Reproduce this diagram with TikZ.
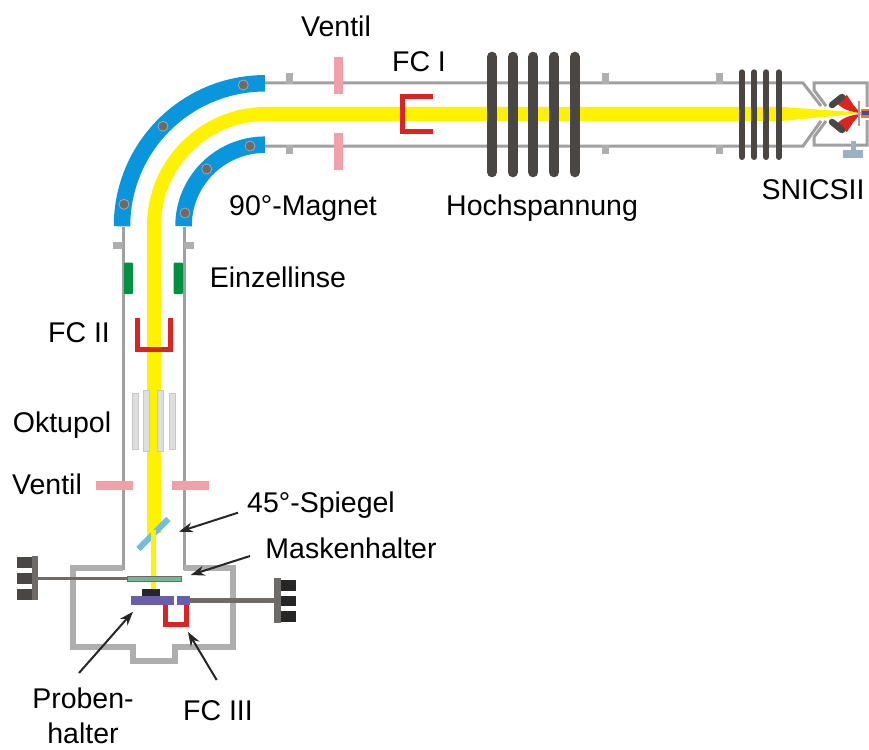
\documentclass[tikz,border=0pt]{standalone}
\usepackage{fontspec}
\setmainfont{Liberation Sans}
\usetikzlibrary{positioning,arrows.meta}
\definecolor{rohrgrau}{HTML}{A0A0A0}
\definecolor{magnetblau}{HTML}{0A96DC}
\definecolor{bolzengrau}{HTML}{6E6A68}
\definecolor{strahlgelb}{HTML}{FFF200}
\definecolor{ventilrosa}{HTML}{F0A0A8}
\definecolor{fcrot}{HTML}{D92420}
\definecolor{spulegrau}{HTML}{4A4644}
\definecolor{linsengruen}{HTML}{009040}
\definecolor{spiegelblau}{HTML}{70BDE0}
\definecolor{maskengruen}{HTML}{70B890}
\definecolor{halterlila}{HTML}{6A5EA8}
\definecolor{pumpenblau}{HTML}{9AB0C4}
\tikzset{
  >=Stealth,
  beschriftung/.style={font=\fontsize{28.5}{35}\selectfont,inner sep=0pt,text height=20.5pt,text depth=0pt},
  rohr/.style={draw=rohrgrau,line width=3pt},
  kammer/.style={draw=rohrgrau!85,line width=6pt,miter limit=10},
  strahl/.style={draw=strahlgelb,line width=14pt},
  magnet/.style={draw=magnetblau,line width=16.5pt},
  bolzen/.style={circle,fill=bolzengrau,draw=gray!70,line width=0.8pt,minimum size=10pt,inner sep=0pt},
  flansch/.style={fill=rohrgrau!85,draw=none},
  ventil/.style={fill=ventilrosa,draw=none},
  fc/.style={draw=fcrot,line width=5pt,miter limit=10},
  spule/.style={draw=spulegrau,line cap=round},
  oktupolstab/.style={fill=black!13,draw=black!22,line width=0.8pt},
  stange/.style={draw=bolzengrau,line cap=butt},
  pfeil/.style={->,draw=black!85,line width=2pt,>={Stealth[length=14pt,width=10pt]}},
}
\begin{document}
\begin{tikzpicture}[x=1pt,y=-1pt]
\useasboundingbox (0,0) rectangle (869,749);

\draw[strahl] (154,226) arc[start angle=180,end angle=90,radius=112pt] -- (782,114);
\draw[strahl] (154,226) -- (154,533);
\fill[strahlgelb] (782,107) -- (861,112.5) -- (861,113.5) -- (782,121) -- cycle;
\fill[strahlgelb] (147,530) -- (161,530) -- (161,526) -- (147,540) -- cycle;

\draw[magnet] (265,83.3) arc[start angle=90,end angle=180,radius=143pt];
\draw[magnet] (265,144.7) arc[start angle=90,end angle=180,radius=81.5pt];
\node[bolzen] (b1) at (243.3,85) {};
\node[bolzen] (b2) at (163,126.3) {};
\node[bolzen] (b3) at (124,204.3) {};
\node[bolzen] (b4) at (250,146) {};
\node[bolzen] (b5) at (206.7,169) {};
\node[bolzen] (b6) at (185,213) {};

\draw[rohr] (265,83) -- (803,83) -- (821,106);
\draw[rohr] (265,146) -- (803,146) -- (821,121);
\draw[rohr] (123,227) -- (123,570);
\draw[rohr] (184,227) -- (184,570);
\draw[kammer] (123,568) -- (73,568) -- (73,646.7) -- (133,646.7) -- (133,661) -- (175,661) -- (175,646.7) -- (233,646.7) -- (233,568) -- (184,568);
\draw[rohr] (826,106) -- (814,90) -- (814,83) -- (867,83) -- (867,107);
\draw[rohr] (826,121) -- (814,137) -- (814,145) -- (867,145) -- (867,120);

\foreach \x in {289,605.7,719} {
  \fill[flansch] (\x-3.5,73) rectangle (\x+3.5,84);
  \fill[flansch] (\x-3.5,145) rectangle (\x+3.5,154);
}
\fill[flansch] (113,241.5) rectangle (123,248.5);
\fill[flansch] (184,241.5) rectangle (194,248.5);

\fill[ventil] (333.5,57) rectangle (342.5,94);
\fill[ventil] (333.5,133) rectangle (342.5,170);
\fill[ventil] (96,480.5) rectangle (133,489.5);
\fill[ventil] (172,480.5) rectangle (209,489.5);

\draw[fc] (433,97) -- (402.5,97) -- (402.5,131) -- (433,131);
\draw[fc] (137,318) -- (137,349) -- (170,349) -- (170,318);

\foreach \x in {492,512.7,533.3,554,574.7}
  \draw[spule,line width=10pt] (\x,56.7) -- (\x,172.3);
\foreach \x in {742,754.3,766.3,778.7}
  \draw[spule,line width=6pt] (\x,72.3) -- (\x,157);

\fill[linsengruen,rounded corners=1pt] (124,262.7) rectangle (133,294);
\fill[linsengruen,rounded corners=1pt] (173.7,262.7) rectangle (183,294);

\foreach \x/\o/\u in {135.7/393/449,146.7/390.7/451.7,160.3/390.7/451.7,172/393/449}
  \filldraw[oktupolstab] (\x-3,\o) rectangle (\x+3,\u);

\draw[draw=spiegelblau,line width=6pt] (138.3,549) -- (168.3,519);
\fill[strahlgelb] (151,530) rectangle (156,589);

\fill[fcrot] (835,101) .. controls (841,109) and (850,112) .. (861,113) .. controls (855,108) and (852,103) .. (847,95) -- cycle;
\fill[fcrot] (835,126) .. controls (841,118) and (850,115) .. (861,114) .. controls (855,119) and (852,124) .. (847,132) -- cycle;
\draw[draw=spulegrau,line width=6.5pt,line cap=round] (832,105) -- (842,97);
\draw[draw=spulegrau,line width=6.5pt,line cap=round] (832,122) -- (842,130);
\draw[draw=rohrgrau,line width=1.4pt] (859,101) -- (859,126);
\fill[orange!60!brown] (861,109) rectangle (869,118);
\fill[blue!45!gray] (862,111.5) rectangle (869,115.5);
\fill[pumpenblau] (850.5,141) rectangle (855.5,150);
\fill[pumpenblau] (843,150) rectangle (863,158);

\fill[stange,fill=maskengruen] (126.7,576) rectangle (181,581.3);
\draw[stange,line width=3.5pt] (38,578.5) -- (126.7,578.5);
\fill[bolzengrau] (32,556) rectangle (38,600);
\foreach \y in {557,573,589}
  \fill[spulegrau] (17,\y) rectangle (32,\y+10.5);
\fill[black!85] (141.7,589) rectangle (160.3,596);
\fill[halterlila] (131,596) rectangle (174,605);
\fill[halterlila] (177,596) rectangle (190,605);
\draw[fc] (165.5,605) -- (165.5,624.3) -- (186,624.3) -- (186,605);
\draw[stange,line width=5pt] (190,600) -- (275,600);
\fill[bolzengrau] (274,578) rectangle (281,622.7);
\foreach \y in {580,595.7,611.2}
  \fill[black!85] (281,\y) rectangle (296,\y+10.5);

\node[beschriftung] (ventiloben) at (336,26) {Ventil};
\node[beschriftung] (fceins) at (419,61) {FC I};
\node[beschriftung] (magnet) at (303,205) {90°-Magnet};
\node[beschriftung,right=69pt of magnet] (hochspannung) {Hochspannung};
\node[beschriftung] (snics) at (813,189) {SNICSII};
\node[beschriftung] (einzellinse) at (278,277) {Einzellinse};
\node[beschriftung] (fczwei) at (79,332) {FC II};
\node[beschriftung] (oktupol) at (62,422) {Oktupol};
\node[beschriftung] (ventilunten) at (47,484) {Ventil};
\node[beschriftung] (spiegel) at (321,502) {45°-Spiegel};
\node[beschriftung] (maske) at (351,548) {Maskenhalter};
\node[font=\fontsize{28.5}{34.5}\selectfont,inner sep=0pt,align=center] (proben) at (83,716) {Proben-\\halter};
\node[beschriftung] (fcdrei) at (218,710) {FC III};

\coordinate (spiegelstart) at (238,512.7);
\coordinate (spiegelziel) at (179,531.7);
\coordinate (maskestart) at (250,556);
\coordinate (maskeziel) at (190.7,575);
\coordinate (probenstart) at (79,673);
\coordinate (probenziel) at (133,611.7);
\coordinate (fcdreistart) at (216.7,680);
\coordinate (fcdreiziel) at (188,632);

\draw[pfeil] (spiegelstart) -- (spiegelziel);
\draw[pfeil] (maskestart) -- (maskeziel);
\draw[pfeil] (probenstart) -- (probenziel);
\draw[pfeil] (fcdreistart) -- (fcdreiziel);

\end{tikzpicture}
\end{document}
